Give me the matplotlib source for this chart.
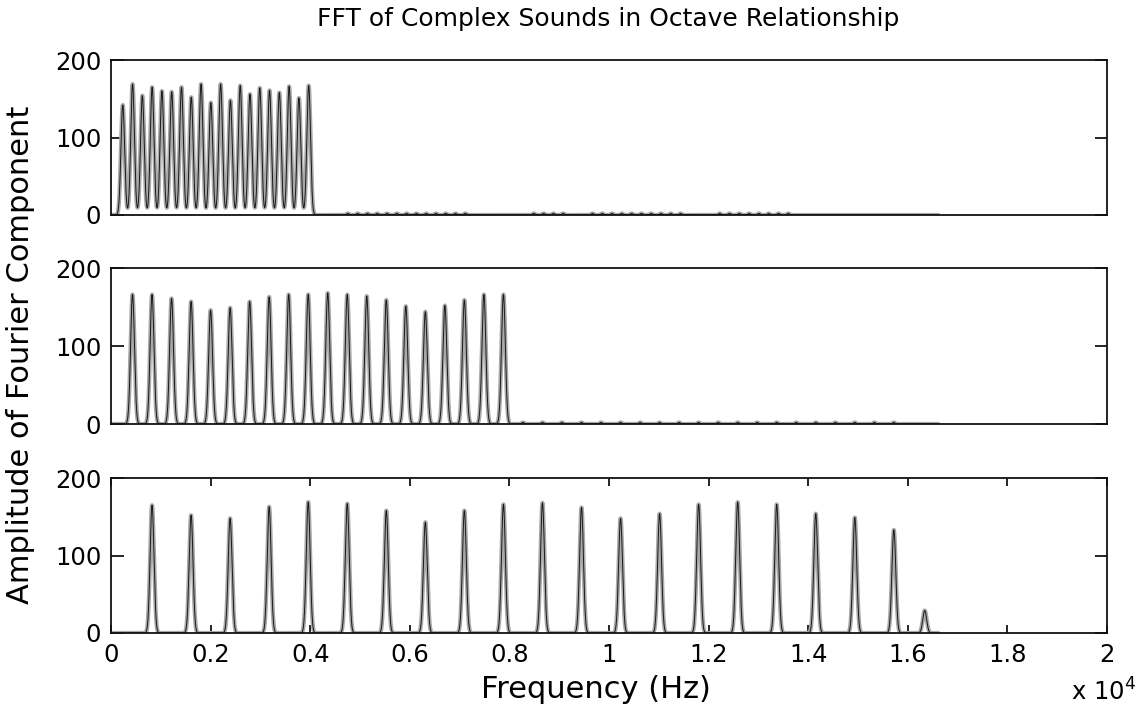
# FFT magnitude of three complex tones an octave apart (20 harmonics each)
import numpy as np
import matplotlib
matplotlib.use("Agg")
import matplotlib.pyplot as plt

plt.rcParams.update({
    "font.family": "DejaVu Sans", "font.size": 17.5,
    "mathtext.default": "regular",
    "axes.linewidth": 1.3, "axes.edgecolor": "#111111",
    "xtick.direction": "in", "ytick.direction": "in",
})

# fundamentals (Hz) and the small offset of the FFT bin centres
f0s = [196.5, 392.0, 784.0]
bin_shift = 40.0

# harmonic peak amplitudes, one list per tone
top_heights = [142, 169, 154, 165, 160, 159, 165, 152, 169, 145,
               169, 148, 167, 156, 164, 161, 158, 166, 151, 167]
mid_heights = [166, 166, 161, 157, 146, 149, 157, 163, 166, 166,
               168, 166, 164, 159, 151, 144, 152, 159, 166, 166]
bot_heights = [165, 152, 148, 163, 169, 167, 158, 143, 158, 166,
               168, 162, 148, 154, 166, 169, 166, 154, 149, 133]

# lone small component above the last harmonic of the high tone
bot_extra_f = [16340]
bot_extra_a = [29]

# faint leakage bumps above the last harmonic: (harmonic number, amplitude)
top_leak_k = list(range(24, 37)) + list(range(43, 47)) + list(range(49, 59)) + list(range(62, 70))
top_leak_a = [2.0] * len(top_leak_k)
mid_leak_k = list(range(21, 41))
mid_leak_a = [2.0] * len(mid_leak_k)

widths = [37.0, 39.0, 39.0]

freq = np.arange(0, 16600, 2.5)


def peak(fc, h, width):
    return h * np.exp(-0.5 * ((freq - fc) / width) ** 2)


def spectrum(f0, heights, width, leak_k=(), leak_a=()):
    y = np.zeros_like(freq)
    for k, h in enumerate(heights, start=1):
        y += peak(f0 * k + bin_shift, h, width)
    for k, h in zip(leak_k, leak_a):
        y += peak(f0 * k + bin_shift, h, 25.0)
    return y


spectra = [
    spectrum(f0s[0], top_heights, widths[0], top_leak_k, top_leak_a),
    spectrum(f0s[1], mid_heights, widths[1], mid_leak_k, mid_leak_a),
    spectrum(f0s[2], bot_heights, widths[2]),
]
for fc, h in zip(bot_extra_f, bot_extra_a):
    spectra[2] += peak(fc, h, widths[2])

W, H = 1141, 713
fig = plt.figure(figsize=(W / 100, H / 100), dpi=100)
boxes = [(60, 215), (268, 424), (478, 633)]
left, right = 111, 1107

axes = []
for (top, bot), y in zip(boxes, spectra):
    ax = fig.add_axes([left / W, 1 - bot / H, (right - left) / W, (bot - top) / H])
    ax.plot(freq, y, color="#a8a8a8", lw=3.0)
    ax.plot(freq, y, color="#1a1a1a", lw=0.7)
    ax.set_xlim(0, 20000)
    ax.set_ylim(0, 200)
    ax.set_yticks([0, 100, 200])
    ax.tick_params(axis="y", which="both", left=True, right=True, length=9, width=1.2, pad=7)
    axes.append(ax)

for ax in axes[:2]:
    ax.tick_params(axis="x", bottom=False, top=False, labelbottom=False)

ax = axes[2]
ax.set_xticks(np.arange(0, 20001, 2000))
ax.set_xticklabels(["0", "0.2", "0.4", "0.6", "0.8", "1", "1.2", "1.4", "1.6", "1.8", "2"])
ax.tick_params(axis="x", bottom=True, top=True, length=6, width=1.2, pad=7)

fig.text(608 / W, 1 - 19 / H, "FFT of Complex Sounds in Octave Relationship",
         ha="center", va="center", fontsize=18)
fig.text(21 / W, 1 - 355 / H, "Amplitude of Fourier Component",
         ha="center", va="center", rotation=90, fontsize=22)
fig.text(596 / W, 1 - 690 / H, "Frequency (Hz)", ha="center", va="center", fontsize=22)
fig.text(1136 / W, 1 - 692 / H, r"x 10$^4$", ha="right", va="center", fontsize=17.5)

fig.savefig("out.png", dpi=100)
